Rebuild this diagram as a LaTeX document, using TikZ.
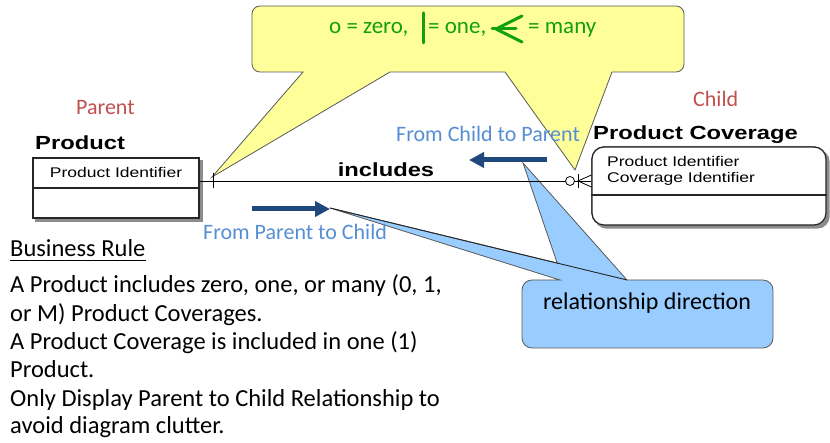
\documentclass[tikz,border=0pt]{standalone}
\usepackage{fontspec}
\setmainfont{Carlito}
\newfontfamily\erfont{Liberation Sans}
\usetikzlibrary{arrows.meta,calc}

\definecolor{noteyellow}{HTML}{FFFF99}
\definecolor{noteblue}{HTML}{99CCFF}
\definecolor{dirblue}{HTML}{1F497D}
\definecolor{labelblue}{HTML}{558ED5}
\definecolor{rolered}{HTML}{C0504D}
\definecolor{keygreen}{HTML}{12A012}

\tikzset{
  callout/.style={draw=black!65, line width=0.8pt},
  erbox/.style={draw=black!85, line width=1.2pt, fill=white, inner sep=0pt},
  shade/.style={fill=black!45},
  relline/.style={draw=black, line width=0.8pt},
  dirarrow/.style={draw=dirblue, line width=5pt, -{Triangle[length=15pt,width=15pt]}},
  keytext/.style={anchor=base west, inner sep=0pt, text=keygreen, font=\fontsize{23}{27}\selectfont},
  keymark/.style={draw=keygreen, line width=3pt, line cap=round},
  note/.style={anchor=base west, inner sep=0pt, font=\fontsize{24.5}{28}\selectfont},
  dirlabel/.style={anchor=base west, inner sep=0pt, text=labelblue, font=\fontsize{22}{26}\selectfont},
  rolelabel/.style={anchor=base west, inner sep=0pt, text=rolered, font=\fontsize{22}{26}\selectfont},
  ertitle/.style={anchor=base west, inner sep=0pt, font=\erfont\bfseries\fontsize{19}{22}\selectfont},
  erattr/.style={inner sep=0pt, font=\erfont\fontsize{14}{16}\selectfont},
}
\newcommand{\wide}[1]{\scalebox{1.25}[1]{#1}}

\begin{document}
\begin{tikzpicture}[x=1pt,y=1pt]
\useasboundingbox (0,0) rectangle (830,443);

% cardinality key callout (two pointers)
\draw[callout, fill=noteyellow]
  (260,437) -- (676,437) arc[start angle=90,end angle=0,radius=8]
  -- (684,379) arc[start angle=0,end angle=-90,radius=8]
  -- (612,371) -- (575,273) -- (505,371) -- (390,371) -- (212,266) -- (303,371)
  -- (260,371) arc[start angle=270,end angle=180,radius=8]
  -- (252,429) arc[start angle=180,end angle=90,radius=8] -- cycle;

% relationship direction callout (two pointers)
\draw[callout, fill=noteblue]
  (532,163) -- (560,163) -- (330,235) -- (557.2,179.9) -- (523,280) -- (627,163)
  -- (763,163) arc[start angle=90,end angle=0,radius=10]
  -- (773,105) arc[start angle=0,end angle=-90,radius=10]
  -- (532,95) arc[start angle=270,end angle=180,radius=10]
  -- (522,153) arc[start angle=180,end angle=90,radius=10] -- cycle;
\draw[black!85, line width=0.9pt] (330,235) -- (627,163);
\node[anchor=base, inner sep=0pt, font=\fontsize{24}{28}\selectfont] (dirnote) at (647,133) {relationship direction};

% key text
\node[keytext] (kzero) at (329,409) {o = zero,};
\draw[keymark] (423,430) -- (423,400);
\node[keytext] (kone) at (428,409) {= one,};
\draw[keymark, line join=round] (522,427) -- (496,414) -- (522,401);
\draw[keymark] (492,414) -- (516,414);
\node[keytext] (kmany) at (528,409) {= many};

% entities with drop shadows
\node[erbox, minimum width=166pt, minimum height=60pt] (prod) at (116,255) {};
\node[erbox, rounded corners=12pt, minimum width=234pt, minimum height=78pt] (cov) at (709,257) {};
\fill[shade] ($(prod.south west)+(3,-3)$) rectangle ($(prod.north east)+(3,-3)$);
\fill[shade, rounded corners=12pt] ($(cov.south west)+(3,-3)$) rectangle ($(cov.north east)+(3,-3)$);
\node[erbox, minimum width=166pt, minimum height=60pt] at (prod.center) {};
\node[erbox, rounded corners=12pt, minimum width=234pt, minimum height=78pt] at (cov.center) {};
\draw[black!85, line width=1.2pt] (prod.west) -- (prod.east);
\draw[black!85, line width=1.2pt] (cov.west |- 0,248) -- (cov.east |- 0,248);

\node[ertitle] (prodtitle) at (35,293) {\wide{Product}};
\node[ertitle] (covtitle) at (593,303) {\wide{Product Coverage}};
\node[erattr] (prodid) at (116,270) {\wide{Product Identifier}};
\node[erattr, anchor=west] (covpid) at (607,281) {\wide{Product Identifier}};
\node[erattr, anchor=west] (covcid) at (607,264) {\wide{Coverage Identifier}};

% relationship
\coordinate (rel) at (400,262);
\draw[relline] (prod.east |- rel) -- (cov.west |- rel);
\node[anchor=base, inner sep=0pt, font=\erfont\bfseries\fontsize{19}{22}\selectfont] (incl) at (386,266) {\wide{includes}};
\draw[relline] (213,270) -- (213,255);
\draw[relline, fill=white] (570,262) circle[radius=4.5];
\draw[relline] (578,269) -- (578,255);
\draw[relline] (cov.west |- 0,268) -- (578,262) -- (cov.west |- 0,256);

% role labels
\node[rolelabel] (parent) at (76,328) {Parent};
\node[rolelabel] (child) at (693,336) {Child};

% direction arrows
\coordinate (cpfrom) at (547,283);
\coordinate (cpto) at (469,283);
\draw[dirarrow] (cpfrom) -- (cpto);
\node[dirlabel] (cplabel) at (396,301) {From Child to Parent};
\coordinate (pcfrom) at (252,234);
\coordinate (pcto) at (330,234);
\draw[dirarrow] (pcfrom) -- (pcto);
\node[dirlabel] (pclabel) at (203,203) {From Parent to Child};

% business rule
\node[note] (brhead) at (10,186) {Business Rule};
\draw[black, line width=1pt] (brhead.base west) ++(0,-4) -- (brhead.base east |- 0,182);
\node[note] (br1) at (10,150) {A Product includes zero, one, or many (0, 1,};
\node[note] (br2) at (10,121) {or M) Product Coverages.};
\node[note] (br3) at (10,93) {A Product Coverage is included in one (1)};
\node[note] (br4) at (10,65) {Product.};
\node[note] (br5) at (10,36) {Only Display Parent to Child Relationship to};
\node[note] (br6) at (10,9) {avoid diagram clutter.};
\end{tikzpicture}
\end{document}
